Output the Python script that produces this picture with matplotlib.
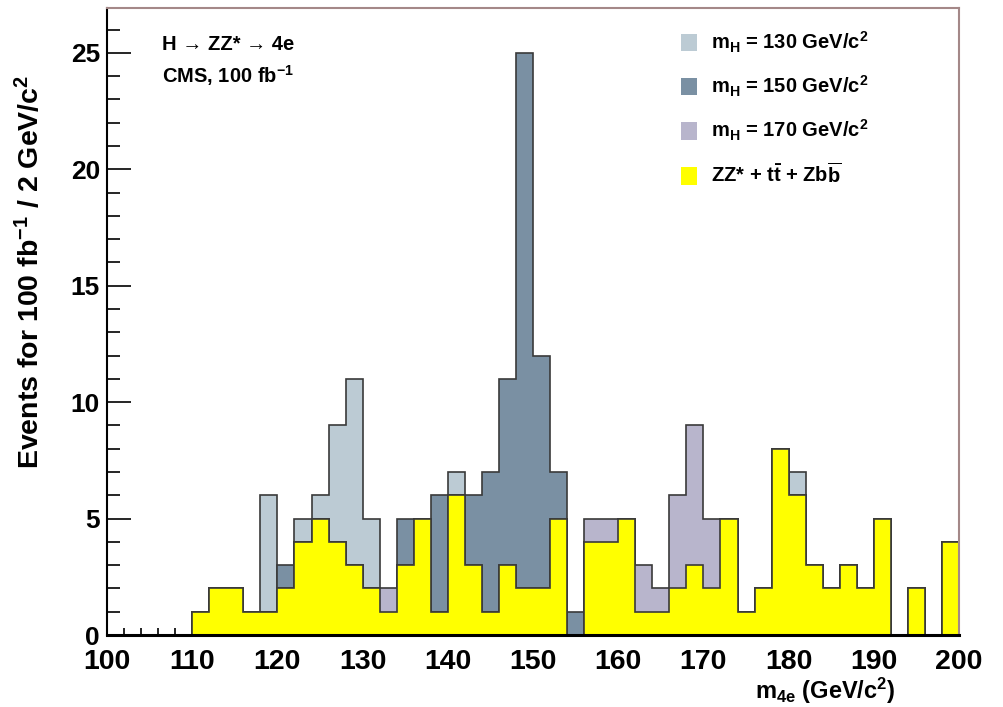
# coding=<utf-8>
import numpy as np
import matplotlib
matplotlib.use('Agg')
import matplotlib.pyplot as plt
from matplotlib.patches import Patch

plt.rcParams['font.family'] = ['Liberation Sans', 'DejaVu Sans']
plt.rcParams['font.weight'] = 'bold'
plt.rcParams['mathtext.fontset'] = 'custom'
plt.rcParams['mathtext.rm'] = 'Liberation Sans:bold'
plt.rcParams['mathtext.it'] = 'Liberation Sans:bold'
plt.rcParams['mathtext.bf'] = 'Liberation Sans:bold'

# %% data: 2 GeV bins from 100 to 200
edges = np.arange(100, 202, 2)

background = [0, 0, 0, 0, 0, 1, 2, 2, 1, 1,
              2, 4, 5, 4, 3, 2, 1, 3, 5, 1,
              6, 3, 1, 3, 2, 2, 5, 0, 4, 4,
              5, 1, 1, 2, 3, 2, 5, 1, 2, 8,
              6, 3, 2, 3, 2, 5, 0, 2, 0, 4]

# signal + background totals
mh130 = [0, 0, 0, 0, 0, 1, 2, 2, 1, 6,
         2, 5, 6, 9, 11, 5, 1, 3, 5, 1,
         7, 3, 1, 3, 2, 2, 5, 0, 4, 4,
         5, 1, 1, 2, 3, 2, 5, 1, 2, 8,
         7, 3, 2, 3, 2, 5, 0, 2, 0, 4]

mh150 = [0, 0, 0, 0, 0, 1, 2, 2, 1, 1,
         3, 4, 5, 4, 3, 2, 1, 5, 5, 6,
         6, 6, 7, 11, 25, 12, 7, 1, 4, 4,
         5, 1, 1, 2, 3, 2, 5, 1, 2, 8,
         6, 3, 2, 3, 2, 5, 0, 2, 0, 4]

mh170 = [0, 0, 0, 0, 0, 1, 2, 2, 1, 1,
         2, 4, 5, 4, 3, 2, 2, 3, 5, 1,
         6, 3, 1, 3, 2, 2, 5, 0, 5, 5,
         5, 3, 2, 6, 9, 5, 5, 1, 2, 8,
         6, 3, 2, 3, 2, 5, 0, 2, 0, 4]

labels = [r'$\mathrm{m_H}$ = 130 GeV/c$^2$',
          r'$\mathrm{m_H}$ = 150 GeV/c$^2$',
          r'$\mathrm{m_H}$ = 170 GeV/c$^2$',
          r'ZZ* + $\mathrm{t\bar{t}}$ + $\mathrm{Zb\overline{b}}$']
colors = ['#bccbd4', '#7a90a3', '#b8b5cc', '#ffff00']

# %% plot
fig = plt.figure(figsize=(10.04, 7.07), dpi=100)
ax = fig.add_axes([0.1066, 0.1018, 0.8486, 0.8869])

for vals, c in zip([mh130, mh150, mh170, background], colors):
    ax.stairs(vals, edges, fill=True, facecolor=c, edgecolor='#3a3a3a', lw=1.2)

ax.set_xlim(100, 200)
ax.set_ylim(0, 26.93)
ax.set_axisbelow(True)

ax.set_xticks(np.arange(100, 201, 10))
ax.set_xticks(np.arange(100, 201, 2), minor=True)
ax.set_yticks(np.arange(0, 26, 5))
ax.set_yticks(np.arange(0, 27, 1), minor=True)
ax.tick_params(axis='y', which='major', direction='in', length=17, width=1.2, pad=5, labelsize=19)
ax.tick_params(axis='y', which='minor', direction='in', length=9, width=1.2)
ax.tick_params(axis='x', which='major', direction='in', length=9, width=1.2, pad=10, labelsize=20.5)
ax.tick_params(axis='x', which='minor', direction='in', length=5, width=1.2)

ax.spines['left'].set_linewidth(1.5)
ax.spines['bottom'].set_linewidth(2.2)
for s in ['top', 'right']:
    ax.spines[s].set_color('#a48888')
    ax.spines[s].set_linewidth(1.5)

fig.text(0.030, 0.895, r'Events for 100 fb$^{-1}$ / 2 GeV/c$^2$', rotation=90,
         ha='center', va='top', fontsize=20.5, fontweight='bold')
fig.text(0.892, 0.002, r'$\mathrm{m_{4e}}$ (GeV/c$^2$)', ha='right', va='bottom',
         fontsize=17, fontweight='bold')

ax.text(0.065, 0.941, 'H \u2192 ZZ* \u2192 4e', transform=ax.transAxes,
        fontsize=14.5, fontweight='bold', va='center')
ax.text(0.065, 0.893, r'CMS, 100 fb$^{-1}$', transform=ax.transAxes,
        fontsize=14.5, fontweight='bold', va='center')

handles = [Patch(facecolor=c, edgecolor='none') for c in colors]
ax.legend(handles, labels, loc='upper left', bbox_to_anchor=(0.660, 0.985),
          frameon=False, fontsize=14.5, handlelength=0.75, handleheight=0.95,
          handletextpad=0.7, labelspacing=0.95, borderaxespad=0.2)

plt.savefig('out.png', dpi=100)
